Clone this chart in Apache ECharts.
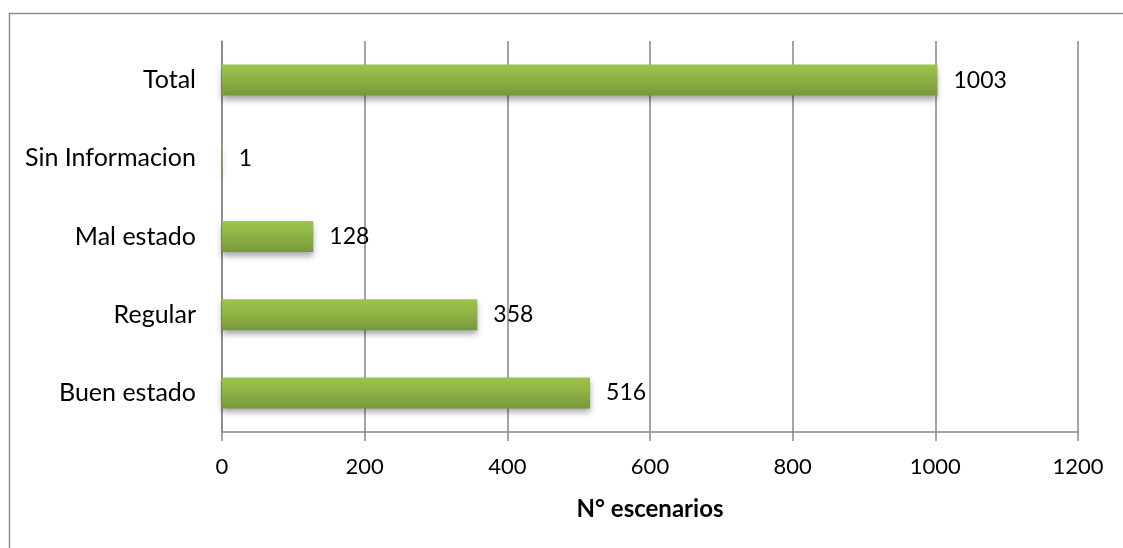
<!DOCTYPE html>
<html><head><meta charset="utf-8">
<script src="https://cdn.jsdelivr.net/npm/echarts@6/dist/echarts.min.js"></script>
<style>html,body{margin:0;padding:0;background:#fff}#c{width:1123px;height:548px}</style>
</head><body><div id="c"></div>
<script>
const categories = ["Buen estado", "Regular", "Mal estado", "Sin Informacion", "Total"];
const values = [516, 358, 128, 1, 1003];
const axisTitle = "N° escenarios";
const FONT = "Lato";

const chart = echarts.init(document.getElementById('c'));
chart.setOption({
  animation: false,
  backgroundColor: '#ffffff',
  grid: {left: 222, top: 41, right: 45, bottom: 116, containLabel: false},
  graphic: [
    {type: 'line', shape: {x1: 9, y1: 13.5, x2: 1123, y2: 13.5}, style: {stroke: '#8c8c8c', lineWidth: 1.5}},
    {type: 'line', shape: {x1: 9.5, y1: 13, x2: 9.5, y2: 548}, style: {stroke: '#8c8c8c', lineWidth: 1.5}}
  ],
  xAxis: {
    type: 'value', min: 0, max: 1200, interval: 200,
    name: axisTitle, nameLocation: 'middle', nameGap: 65,
    nameTextStyle: {fontFamily: FONT, fontWeight: 'bold', fontSize: 24, color: '#000'},
    axisLine: {show: true, lineStyle: {color: '#868686', width: 1.5}},
    axisTick: {show: true, length: 9, lineStyle: {color: '#868686', width: 1.5}},
    axisLabel: {fontFamily: FONT, fontSize: 22, color: '#000', margin: 24, formatter: v => String(v)},
    splitLine: {show: true, lineStyle: {color: '#868686', width: 1.5}}
  },
  yAxis: {
    type: 'category', data: categories,
    axisLine: {show: true, lineStyle: {color: '#868686', width: 1.5}},
    axisTick: {show: false},
    axisLabel: {fontFamily: FONT, fontSize: 25, color: '#000', margin: 26}
  },
  series: [{
    type: 'bar', data: values, barWidth: 31,
    itemStyle: {
      color: new echarts.graphic.LinearGradient(0, 0, 0, 1, [
        {offset: 0, color: '#9dc54c'},
        {offset: 0.5, color: '#8cb144'},
        {offset: 1, color: '#77983a'}
      ]),
      shadowColor: 'rgba(0,0,0,0.35)', shadowBlur: 6, shadowOffsetY: 4
    },
    label: {show: true, position: 'right', distance: 16, fontFamily: FONT, fontSize: 23, color: '#000'}
  }]
});
</script></body></html>
